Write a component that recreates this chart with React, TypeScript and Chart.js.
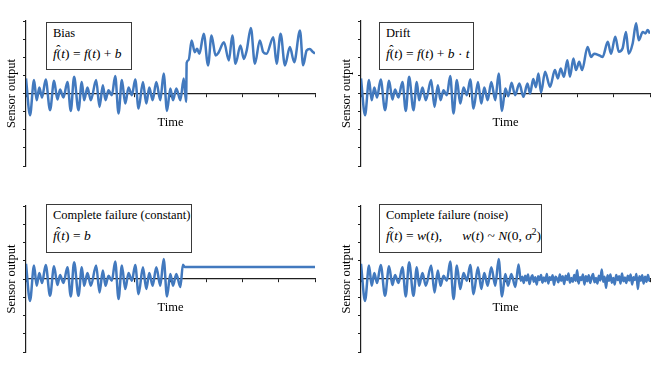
import React, { useEffect, useRef } from "react";
import { Chart, registerables } from "chart.js";

Chart.register(...registerables);

type Pt = [number, number];

// Axis ticks (time in % of record, sensor output units)
const timeTicks = [0, 12.5, 25, 37.5, 50, 62.5, 75, 87.5, 100];
const outputTicks = [-4, -3, -2, -1, 0, 1, 2, 3, 4];

// Healthy sensor signal f(t), shared by all panels
const commonSignal: Pt[] = [
  [0, 0.83], [1.39, -1.2], [2.77, 0.74], [3.7, -0.37], [4.62, 0.33], [5.55, -0.22],
  [6.82, 0.77], [8.32, -0.92], [9.71, 0.7], [10.87, -0.33], [11.79, 0.22], [12.95, -0.22],
  [14.34, 0.64], [15.49, -0.96], [16.65, 0.92], [18.15, -0.92], [19.31, 0.64], [20.12, -0.37],
  [21.27, 0.33], [22.43, -0.37], [24.28, 0.74], [25.43, -0.74], [26.59, 0.46], [27.51, -0.37],
  [28.55, 0.18], [29.71, -0.09], [30.87, 0.96], [32.02, -1.1], [33.18, 0.74], [34.34, -0.55],
  [35.49, 0.33], [36.65, -0.09], [37.8, 0.77], [38.96, -0.83], [40.46, 0.64], [41.62, -0.55],
  [42.66, 0.33], [43.82, -0.37], [45.09, 0.64], [46.47, -0.37], [47.63, 1.1], [48.79, -0.96],
  [49.94, 0.28],
];

// Bias fault
const biasTail: Pt[] = [
  [50.87, -0.37], [52.02, 0.28], [53.41, -0.37], [54.57, 0.83], [55.4, -0.46], [55.6, 1.7],
  [56.3, 1.85], [57.3, 2.93], [58.4, 2.28], [59.2, 2.47], [60.0, 2.19], [61.5, 3.3],
  [63.0, 1.55], [64.2, 3.2], [65.6, 2.1], [66.6, 2.25], [68.5, 2.83], [70.2, 1.82],
  [71.4, 3.2], [72.5, 1.64], [74.2, 2.65], [75.4, 1.91], [76.4, 2.4], [77.8, 3.62],
  [79.2, 1.64], [80.9, 2.93], [82.1, 2.28], [83.2, 2.19], [85.6, 3.11], [86.7, 1.64],
  [88.1, 3.3], [89.6, 1.55], [91.3, 2.56], [92.8, 1.73], [94.8, 3.48], [95.9, 1.56],
  [97.1, 2.37], [98.2, 2.45], [99.2, 2.3], [100, 2.2],
];

// Drift fault
const driftTail: Pt[] = [
  [51.0, -0.15], [52.1, 0.6], [53.3, -0.09], [54.8, 0.55], [56.2, -0.18], [57.6, 0.55],
  [58.5, 0.0], [59.6, 0.8], [60.5, 0.35], [61.4, 1.1], [62.3, 0.05], [63.7, 1.2],
  [65.4, 0.37], [67.1, 1.29], [68.1, 0.83], [69.1, 1.38], [70.2, 0.92], [71.4, 1.84],
  [72.3, 0.92], [73.5, 1.93], [74.4, 1.29], [75.5, 1.75], [76.5, 1.29], [78.4, 2.57],
  [79.6, 2.02], [80.7, 2.2], [82.5, 2.1], [83.6, 2.02], [85.4, 2.85], [86.5, 2.2],
  [88.0, 3.13], [89.2, 2.3], [90.5, 2.48], [91.7, 3.4], [92.6, 2.2], [94.0, 2.76],
  [95.2, 3.87], [96.1, 2.94], [97.5, 3.4], [98.4, 3.31], [99.2, 3.5], [100, 3.31],
];

// Complete failure, constant output
const constantTail: Pt[] = [
  [50.87, -0.37], [52.02, 0.28], [53.41, -0.44], [54.3, 0.78], [54.9, 0.66], [100, 0.66],
];

// Complete failure, noise output
const noiseTail: Pt[] = [
  [50.87, -0.37], [52.02, 0.28], [53.41, -0.44], [54.5, 0.8], [55.3, -0.1],
  [55.8, 0.12], [56.3, -0.22], [56.8, 0.18], [57.3, -0.08], [57.8, 0.25], [58.3, -0.28],
  [58.8, 0.05], [59.3, 0.2], [59.8, -0.15], [60.3, 0.1], [60.8, -0.3], [61.3, 0.15],
  [61.8, -0.05], [62.3, 0.22], [62.8, -0.2], [63.3, 0.08], [63.8, -0.12], [64.3, 0.28],
  [64.8, -0.25], [65.3, 0.1], [65.8, -0.05], [66.3, 0.2], [66.8, -0.32], [67.3, 0.12],
  [67.8, 0.02], [68.3, -0.18], [68.8, 0.25], [69.3, -0.1], [69.8, 0.15], [70.3, -0.28],
  [70.8, 0.18], [71.3, -0.05], [71.8, 0.3], [72.3, -0.2], [72.8, 0.05], [73.3, -0.15],
  [73.8, 0.22], [74.3, -0.1], [74.8, 0.48], [75.3, -0.25], [75.8, 0.1], [76.3, -0.05],
  [76.8, 0.25], [77.3, -0.3], [77.8, 0.15], [78.3, -0.12], [78.8, 0.2], [79.3, -0.22],
  [79.8, 0.08], [80.3, 0.28], [80.8, -0.18], [81.3, 0.05], [81.8, -0.25], [82.3, 0.18],
  [82.8, -0.08], [83.3, 0.52], [83.8, -0.15], [84.3, 0.12], [84.8, -0.48], [85.3, 0.2],
  [85.8, -0.1], [86.3, 0.25], [86.8, -0.2], [87.3, 0.05], [87.8, -0.3], [88.3, 0.22],
  [88.8, -0.05], [89.3, 0.15], [89.8, -0.25], [90.3, 0.3], [90.8, -0.12], [91.3, 0.08],
  [91.8, -0.22], [92.3, 0.18], [92.8, -0.08], [93.3, 0.25], [93.8, -0.3], [94.3, 0.1],
  [94.8, -0.05], [95.3, 0.28], [95.8, -0.55], [96.3, 0.15], [96.8, -0.1], [97.3, 0.2],
  [97.8, -0.25], [98.3, 0.12], [98.8, -0.15], [99.3, 0.22], [99.8, -0.1], [100, 0.05],
];

const panelTitles = ["Bias", "Drift", "Complete failure (constant)", "Complete failure (noise)"];
const xTitle = "Time";
const yTitle = "Sensor output";

const SERIF = "'Liberation Serif', 'Times New Roman', serif";
const LINE = "#4279be";
const AXIS = "#1e1e1e";

const FHat = () => (
  <span style={{ position: "relative", display: "inline-block", fontStyle: "italic" }}>
    f
    <span
      style={{
        position: "absolute",
        left: "0.26em",
        top: "-0.3em",
        fontStyle: "normal",
        fontSize: "0.95em",
      }}
    >
      ˆ
    </span>
  </span>
);

const I = ({ children }: { children: React.ReactNode }) => (
  <span style={{ fontStyle: "italic" }}>{children}</span>
);

const formulas: React.ReactNode[] = [
  <>
    <FHat />(<I>t</I>) = <I>f</I>(<I>t</I>) + <I>b</I>
  </>,
  <>
    <FHat />(<I>t</I>) = <I>f</I>(<I>t</I>) + <I>b</I> · <I>t</I>
  </>,
  <>
    <FHat />(<I>t</I>) = <I>b</I>
  </>,
  <>
    <FHat />(<I>t</I>) = <I>w</I>(<I>t</I>),{"\u00a0\u00a0\u00a0\u00a0\u00a0\u00a0"}<I>w</I>(<I>t</I>) ~ <I>N</I>(0, <I>σ</I>
    <sup style={{ fontSize: "0.7em", lineHeight: 0 }}>2</sup>)
  </>,
];

type PanelProps = {
  left: number;
  top: number;
  width: number;
  height: number;
  pad: { left: number; right: number; top: number; bottom: number };
  data: Pt[];
  title: string;
  formula: React.ReactNode;
  box: { left: number; top: number; width: number; height: number };
};

function Panel({ left, top, width, height, pad, data, title, formula, box }: PanelProps) {
  const ref = useRef<HTMLCanvasElement | null>(null);

  useEffect(() => {
    if (!ref.current) return;
    const chart = new Chart(ref.current, {
      type: "line",
      data: {
        datasets: [
          {
            data: data.map(([x, y]) => ({ x, y })),
            borderColor: LINE,
            borderWidth: 2.5,
            pointRadius: 0,
            fill: false,
            cubicInterpolationMode: "monotone",
          },
        ],
      },
      options: {
        responsive: false,
        animation: false,
        events: [],
        layout: { padding: pad },
        plugins: { legend: { display: false }, tooltip: { enabled: false } },
        scales: {
          x: {
            type: "linear",
            min: 0,
            max: 100,
            position: { y: 0 } as any,
            afterBuildTicks: (s: any) => {
              s.ticks = timeTicks.map((value) => ({ value }));
            },
            ticks: { display: false },
            grid: { drawOnChartArea: false, drawTicks: true, tickLength: 3, color: AXIS, lineWidth: 1 },
            border: { display: true, color: AXIS, width: 1.2 },
          },
          y: {
            type: "linear",
            min: -4,
            max: 4,
            position: "left",
            afterBuildTicks: (s: any) => {
              s.ticks = outputTicks.map((value) => ({ value }));
            },
            afterFit: (s: any) => {
              s.width = 26;
            },
            ticks: { display: false },
            grid: { drawOnChartArea: false, drawTicks: true, tickLength: 3, color: AXIS, lineWidth: 1 },
            border: { display: true, color: AXIS, width: 1.2 },
            title: {
              display: true,
              text: yTitle,
              color: "#000",
              font: { family: SERIF, size: 12.5 },
              padding: { top: 4, bottom: 0 },
            },
          },
        },
      } as any,
    });
    return () => chart.destroy();
  }, []);

  const axisLeft = left + pad.left + 26;
  const axisRight = left + width - pad.right;
  const zeroY = top + pad.top + (height - pad.top - pad.bottom) / 2;

  return (
    <>
      <canvas
        ref={ref}
        width={width}
        height={height}
        style={{ position: "absolute", left, top, width, height }}
      />
      <div
        style={{
          position: "absolute",
          left: box.left,
          top: box.top,
          width: box.width,
          height: box.height,
          boxSizing: "border-box",
          border: "1.5px solid #3a3a3a",
          background: "#fff",
          fontFamily: SERIF,
          color: "#000",
          padding: "3px 0 0 6px",
          whiteSpace: "nowrap",
        }}
      >
        <div style={{ fontSize: 12.5, lineHeight: "15px" }}>{title}</div>
        <div style={{ fontSize: 13.5, lineHeight: "16px", marginTop: 5 }}>{formula}</div>
      </div>
      <div
        style={{
          position: "absolute",
          left: (axisLeft + axisRight) / 2,
          top: zeroY + 21,
          transform: "translateX(-50%)",
          fontFamily: SERIF,
          fontSize: 12.5,
          lineHeight: "15px",
          color: "#000",
          whiteSpace: "nowrap",
        }}
      >
        {xTitle}
      </div>
    </>
  );
}

export default function App() {
  const panels: PanelProps[] = [
    {
      left: 0, top: 0, width: 330, height: 180,
      pad: { left: 0, right: 15, top: 21, bottom: 14 },
      data: [...commonSignal, ...biasTail],
      title: panelTitles[0], formula: formulas[0],
      box: { left: 46, top: 22, width: 86, height: 48 },
    },
    {
      left: 330, top: 0, width: 330, height: 180,
      pad: { left: 5, right: 10, top: 21, bottom: 14 },
      data: [...commonSignal, ...driftTail],
      title: panelTitles[1], formula: formulas[1],
      box: { left: 379, top: 22, width: 95, height: 48 },
    },
    {
      left: 0, top: 180, width: 330, height: 185,
      pad: { left: 0, right: 15, top: 26, bottom: 13 },
      data: [...commonSignal, ...constantTail],
      title: panelTitles[2], formula: formulas[2],
      box: { left: 46, top: 204, width: 146, height: 49 },
    },
    {
      left: 330, top: 180, width: 330, height: 185,
      pad: { left: 5, right: 10, top: 26, bottom: 13 },
      data: [...commonSignal, ...noiseTail],
      title: panelTitles[3], formula: formulas[3],
      box: { left: 379, top: 204, width: 163, height: 49 },
    },
  ];

  return (
    <div
      style={{
        position: "absolute",
        left: 0,
        top: 0,
        width: 660,
        height: 365,
        background: "#fff",
        overflow: "hidden",
      }}
    >
      {panels.map((p, i) => (
        <Panel key={i} {...p} />
      ))}
    </div>
  );
}
